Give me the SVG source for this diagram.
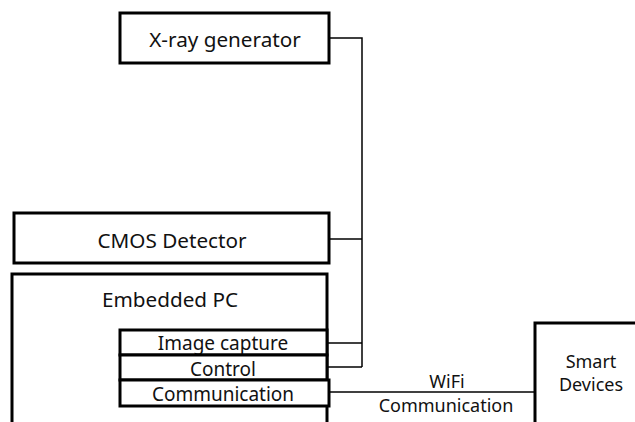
<svg xmlns="http://www.w3.org/2000/svg" width="635" height="422" viewBox="0 0 635 422">
<style>
.box{fill:#fff;stroke:#000;stroke-width:3}
.t{font-family:"Noto Sans","Open Sans",sans-serif;font-size:18px;fill:#111;text-anchor:middle}
.h{font-size:20.7px}
.i{font-size:19px}
.c{fill:none;stroke:#000;stroke-width:1.5}
</style>
<rect width="635" height="422" fill="#fff"/>
<g id="connectors">
<path class="c" d="M330 38H362V367"/>
<path class="c" d="M330 239H362"/>
<path class="c" d="M327 343H362"/>
<path class="c" d="M327 367H362"/>
<path class="c" d="M330 392H535"/>
<text class="t" x="447" y="388">WiFi</text>
<text class="t" x="446" y="412">Communication</text>
</g>
<g id="xray">
<rect class="box" x="120" y="13" width="209" height="50"/>
<text class="t h" x="225" y="47">X-ray generator</text>
</g>
<g id="cmos">
<rect class="box" x="14" y="213" width="315" height="50"/>
<text class="t h" x="172" y="248">CMOS Detector</text>
</g>
<g id="embedded">
<rect class="box" x="12" y="274" width="315" height="160"/>
<text class="t h" x="170" y="307">Embedded PC</text>
</g>
<g id="imagecapture">
<rect class="box" x="120" y="330" width="207" height="25"/>
<text class="t i" x="223" y="350">Image capture</text>
</g>
<g id="control">
<rect class="box" x="120" y="355" width="207" height="25"/>
<text class="t i" x="223" y="376">Control</text>
</g>
<g id="communication">
<rect class="box" x="120" y="380" width="209" height="26"/>
<text class="t i" x="223" y="401">Communication</text>
</g>
<g id="smart">
<rect class="box" x="535" y="323" width="120" height="120"/>
<text class="t" x="591" y="368">Smart</text>
<text class="t" x="591" y="391">Devices</text>
</g>
</svg>
